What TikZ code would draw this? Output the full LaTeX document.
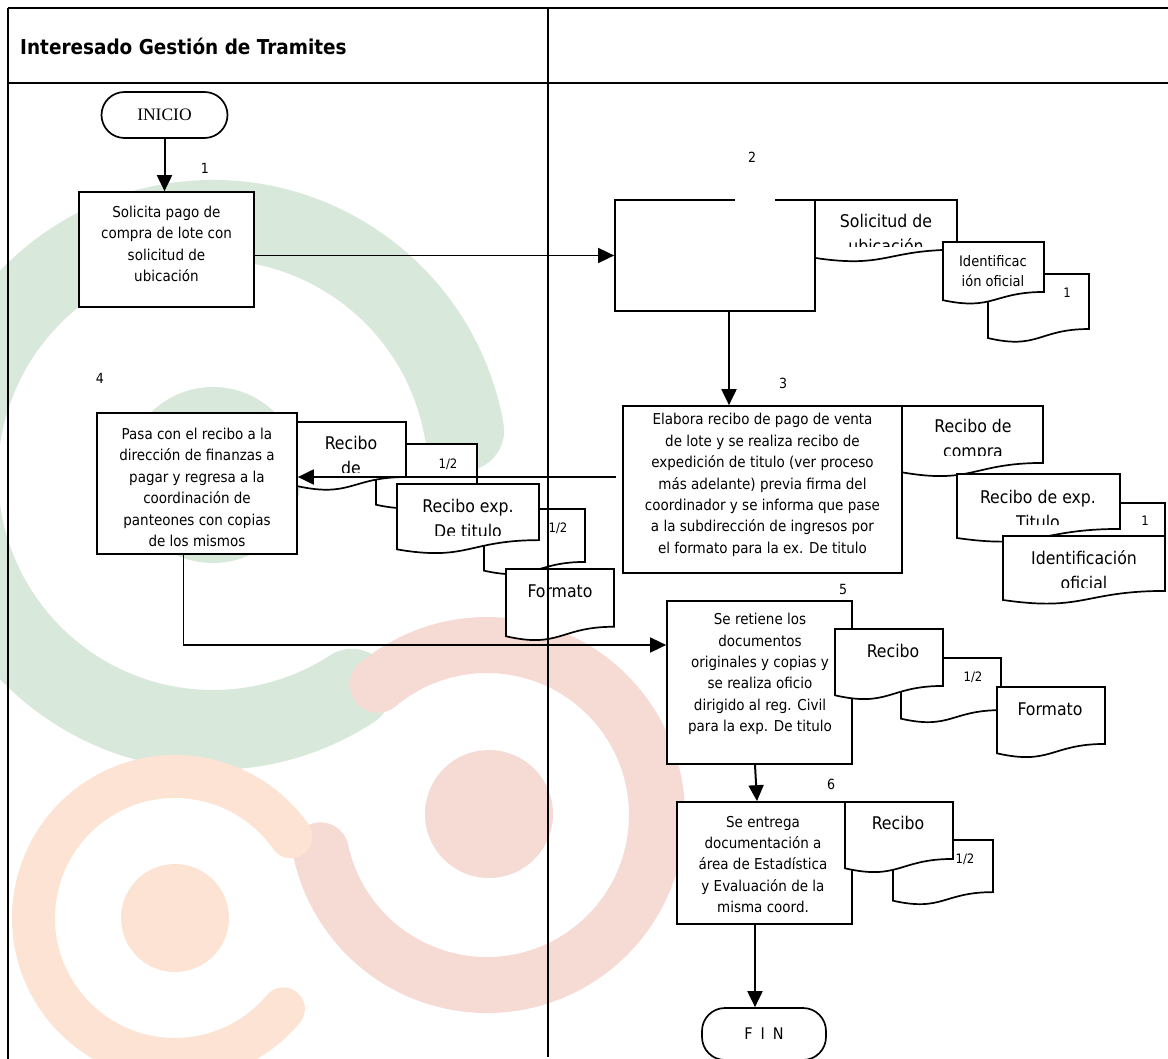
\documentclass[tikz,border=0pt]{standalone}
\usepackage{fontspec}
\setmainfont{DejaVu Sans Condensed}
\newfontfamily\termfont{Liberation Serif}
\usetikzlibrary{arrows.meta}

\definecolor{wmgreen}{RGB}{216,232,218}
\definecolor{wmpink}{RGB}{246,218,212}
\definecolor{wmpeach}{RGB}{252,227,211}

% document symbol: left x, top y, width, height (y grows downwards)
\newcommand\docshape[4]{%
  \draw[docline] (#1,#2) -- ({#1+#3},#2) -- ({#1+#3},{#2+0.802*#4})
    .. controls ({#1+0.5*#3},{#2+0.802*#4}) and ({#1+0.5*#3},{#2+1.107*#4})
    .. (#1,{#2+0.934*#4}) -- cycle;}

\tikzset{
  procbox/.style={draw, line width=1.7pt, fill=white, inner sep=0pt},
  boxtext/.style={align=center, font=\fontsize{15}{21.4}\selectfont, inner sep=0pt},
  terminal/.style={draw, line width=1.7pt, fill=white, rounded corners=23pt, inner sep=0pt},
  docline/.style={line width=1.7pt, fill=white},
  doctext/.style={align=center, font=\fontsize{17.5}{25}\selectfont, inner sep=0pt},
  docsmall/.style={align=center, font=\fontsize{14.5}{19.5}\selectfont, inner sep=0pt},
  copymark/.style={font=\fontsize{13}{13}\selectfont, inner sep=0pt},
  stepnum/.style={font=\fontsize{14}{14}\selectfont, inner sep=0pt},
  flow/.style={line width=2pt, -{Triangle[length=16pt,width=15pt]}},
  frameline/.style={line width=1.6pt},
  wmring/.style={line cap=round},
}

\begin{document}
\begin{tikzpicture}[x=1pt, y=-1pt]
\useasboundingbox (0,0) rectangle (1168,1059);

% background logo
\fill[wmgreen] (213,475) circle[radius=88];
\draw[wmgreen, line width=80pt, wmring] (464.1,430.7) arc[start angle=-10, end angle=-303, radius=255];
\fill[wmpink] (489,814) circle[radius=64];
\draw[wmpink, line width=56pt, wmring] (377.7,684.8) arc[start angle=-130, end angle=168, radius=170];
\fill[wmpeach] (175,918) circle[radius=54];
\draw[wmpeach, line width=43pt, wmring] (290.9,836.8) arc[start angle=-35, end angle=-320, radius=141.5];

% table frame
\draw[frameline] (8,8) -- (1168,8);
\draw[frameline] (8,8) -- (8,1059);
\draw[frameline] (8,83) -- (1168,83);
\node[anchor=west, font=\bfseries\fontsize{20.5}{20.5}\selectfont, inner sep=0pt] (title) at (20,46) {Interesado Gestión de Tramites};

% terminals
\node[terminal, minimum width=126pt, minimum height=46pt, font=\termfont\fontsize{17.5}{17.5}\selectfont] (inicio) at (164.5,115) {INICIO};
\node[terminal, minimum width=124pt, minimum height=52pt, font=\fontsize{16}{16}\selectfont] (fin) at (764,1034) {F\hspace{8pt}I\hspace{8pt}N};

% process boxes
\node[procbox, minimum width=175pt, minimum height=115pt] (b1) at (166.5,249.5) {};
\node[boxtext] (b1t) at (166.5,244) {Solicita pago de\\compra de lote con\\solicitud de\\ubicación};

\node[procbox, minimum width=200pt, minimum height=111pt] (b2) at (715,255.5) {};
\fill[white] (735,198) rectangle (775,201.8);

\node[procbox, minimum width=279pt, minimum height=167pt] (b3) at (762.5,489.5) {};
\node[boxtext] (b3t) at (762.5,485) {Elabora recibo de pago de venta\\de lote y se realiza recibo de\\expedición de titulo (ver proceso\\más adelante) previa firma del\\coordinador y se informa que pase\\a la subdirección de ingresos por\\el formato para la ex. De titulo};

\node[procbox, minimum width=200pt, minimum height=141pt] (b4) at (197,483.5) {};
\node[boxtext] (b4t) at (197,487.5) {Pasa con el recibo a la\\dirección de finanzas a\\pagar y regresa a la\\coordinación de\\panteones con copias\\de los mismos};

\node[procbox, minimum width=185pt, minimum height=163pt] (b5) at (759.5,682.5) {};
\node[boxtext] (b5t) at (760,674) {Se retiene los\\documentos\\originales y copias y\\se realiza oficio\\dirigido al reg. Civil\\para la exp. De titulo};

\node[procbox, minimum width=175pt, minimum height=122pt] (b6) at (764.5,863) {};
\node[boxtext] (b6t) at (763,864.5) {Se entrega\\documentación a\\área de Estadística\\y Evaluación de la\\misma coord.};

% step numbers
\node[stepnum] (n1) at (205,168) {1};
\node[stepnum] (n2) at (752,157) {2};
\node[stepnum] (n3) at (783,383) {3};
\node[stepnum] (n4) at (100,378) {4};
\node[stepnum] (n5) at (843,589) {5};
\node[stepnum] (n6) at (831,784) {6};

% documents of step 2
\docshape{815}{200}{142}{62}
\begin{scope}
  \clip (815,200) rectangle (957,247);
  \node[doctext] (d1) at (886,233.5) {Solicitud de\\ubicación};
\end{scope}
\docshape{988}{274}{101}{68.6}
\node[copymark] (d2c) at (1067,293) {1};
\docshape{943}{242}{101}{62.3}
\node[docsmall] (d2) at (993,271) {Identificac\\ión oficial};

% documents of step 3
\docshape{902}{406}{141}{71}
\begin{scope}
  \clip (902,406) rectangle (1043,455);
  \node[doctext] (d3) at (973,440.5) {Recibo de\\compra};
\end{scope}
\docshape{1012}{503}{153}{68}
\node[copymark] (d4c) at (1145,521) {1};
\docshape{957}{474}{163}{68.5}
\begin{scope}
  \clip (957,474) rectangle (1120,524);
  \node[doctext] (d4) at (1038,509) {Recibo de exp.\\Titulo};
\end{scope}
\docshape{1003}{536}{162}{68.5}
\begin{scope}
  \clip (1003,536) rectangle (1165,587);
  \node[doctext] (d5) at (1084,570) {Identificación\\oficial};
\end{scope}

% documents of step 4
\docshape{376}{444}{101}{65}
\node[copymark] (d6c) at (448,464) {1/2};
\docshape{297}{422}{109}{68.6}
\begin{scope}
  \clip (297,422) rectangle (406,472);
  \node[doctext] (d6) at (351,455.5) {Recibo\\de};
\end{scope}
\docshape{484}{509}{101}{66}
\node[copymark] (d7c) at (558,528) {1/2};
\docshape{397}{484}{142}{70}
\begin{scope}
  \clip (397,484) rectangle (539,535);
  \node[doctext] (d7) at (468,518.5) {Recibo exp.\\De titulo};
\end{scope}
\docshape{506}{569}{108}{72}
\node[doctext] (d8) at (560,591) {Formato};

% documents of step 5
\docshape{901}{658}{100}{65}
\node[copymark] (d9c) at (973,677) {1/2};
\docshape{835}{629}{108}{71}
\node[doctext] (d9) at (893,651) {Recibo};
\docshape{997}{687}{108}{71}
\node[doctext] (d10) at (1050,709) {Formato};

% documents of step 6
\docshape{893}{840}{100}{65}
\node[copymark] (d11c) at (965,859) {1/2};
\docshape{845}{802}{108}{71}
\node[doctext] (d11) at (898,823) {Recibo};

% connectors
\draw[flow] (inicio.south) -- (inicio.south |- b1.north);
\draw[flow, line width=1.6pt] (b1.east |- b2.west) -- (b2.west);
\draw[flow] ([xshift=14pt]b2.south) -- ([xshift=14pt]b2.south |- b3.north);
\coordinate (c34) at (616,477);
\draw[flow] (c34) -- (c34 -| b4.east);
\coordinate (c45) at (183,645);
\draw[line width=0.9pt] (b4.south -| c45) -- (c45);
\draw[flow, line width=1.6pt] (c45) -- (c45 -| b5.west);
\draw[flow] ([xshift=-4.5pt]b5.south) -- ([xshift=-7.5pt]b6.north);
\draw[flow] ([xshift=-9.5pt]b6.south) -- ([xshift=-9.5pt]b6.south |- fin.north);

% lane divider
\draw[frameline] (548,8) -- (548,1057);
\end{tikzpicture}
\end{document}
